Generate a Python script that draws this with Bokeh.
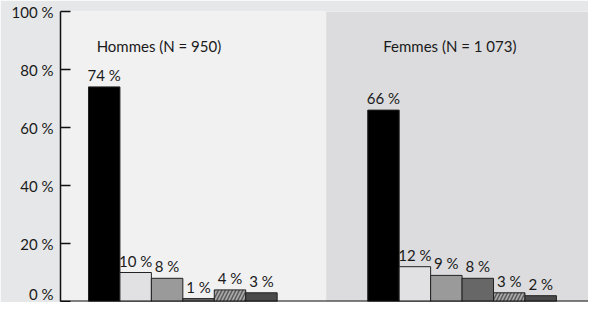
from bokeh.plotting import figure
from bokeh.models import Range1d, BoxAnnotation, Span, ColumnDataSource, FixedTicker, PrintfTickFormatter
from bokeh.core.properties import value
from bokeh.embed import file_html
from bokeh.resources import INLINE

# ---- data ----
groups = ["Hommes (N = 950)", "Femmes (N = 1 073)"]
hommes = [74, 10, 8, 1, 4, 3]
femmes = [66, 12, 9, 8, 3, 2]
y_ticks = [0, 20, 40, 60, 80, 100]

# ---- styles / layout ----
FONT = "Lato"
bar_colors = ["#000000", "#e1e1e3", "#9a9a9a", "#676767", "#a9a9a9", "#4a4a4a"]
bar_hatch = ["", "", "", "", "/", ""]
group_start = [0.89, 9.77]
title_x = [3.13, 12.38]
split_x = 8.45
x_end = 16.79

p = figure(width=588, height=302, output_backend="svg", toolbar_location=None,
           x_range=Range1d(0, x_end), y_range=Range1d(0, 100),
           min_border_left=60, min_border_right=0, min_border_top=11, min_border_bottom=1)
p.border_fill_color = "#e6e7e8"
p.background_fill_color = "#f1f1f2"
p.outline_line_color = None
p.grid.visible = False
p.xaxis.visible = False

p.add_layout(BoxAnnotation(left=split_x, right=x_end, fill_color="#dcdcde", fill_alpha=1.0,
                           line_color=None, level="underlay"))

for gi, vals in enumerate([hommes, femmes]):
    xs = [group_start[gi] + 0.5 + i for i in range(len(vals))]
    src = ColumnDataSource(dict(x=xs, top=vals, color=bar_colors, hatch=bar_hatch,
                                label=[f"{v} %" for v in vals]))
    p.vbar(x="x", top="top", bottom=0, width=1.0, source=src, fill_color="color",
           line_color="#222222", line_width=1, hatch_pattern="hatch", hatch_color="#5a5a5a",
           hatch_scale=7, hatch_weight=1.5)
    p.text(x="x", y="top", text="label", source=src, text_align="center",
           text_baseline="alphabetic", y_offset=-12, text_font=value(FONT),
           text_font_size="15px", text_color="#1a1a1a")
    p.text(x=[title_x[gi]], y=[88], text=[groups[gi]], text_align="center",
           text_baseline="alphabetic", text_font=value(FONT), text_font_size="15px",
           text_color="#1a1a1a")

p.add_layout(Span(location=0, dimension="width", line_color="#111111", line_width=2))

ax = p.yaxis[0]
ax.ticker = FixedTicker(ticks=y_ticks)
ax.formatter = PrintfTickFormatter(format="%d %%")
ax.axis_line_color = "#111111"
ax.axis_line_width = 1.5
ax.major_tick_in = 10
ax.major_tick_out = 0
ax.major_tick_line_width = 1.5
ax.major_tick_line_color = "#111111"
ax.minor_tick_line_color = None
ax.major_label_text_font = FONT
ax.major_label_text_font_size = "15px"
ax.major_label_text_color = "#1a1a1a"
ax.major_label_standoff = 7

open("out.html", "w").write(file_html(p, INLINE))
